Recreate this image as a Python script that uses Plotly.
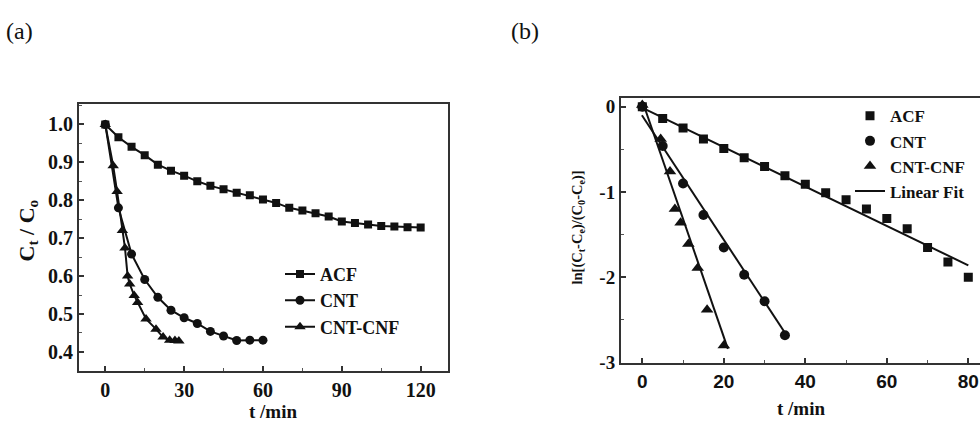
import plotly.graph_objects as go

# ---------------- data: panel (a) ----------------
acf_t = [0, 5, 10, 15, 20, 25, 30, 35, 40, 45, 50, 55, 60, 65, 70, 75, 80, 85, 90, 95, 100, 105, 110, 115, 120]
acf_c = [1.0, 0.966, 0.941, 0.919, 0.894, 0.878, 0.865, 0.850, 0.838, 0.829, 0.820, 0.813, 0.802,
         0.793, 0.780, 0.773, 0.766, 0.757, 0.744, 0.740, 0.736, 0.732, 0.731, 0.729, 0.728]
cnt_t = [0, 5, 10, 15, 20, 25, 30, 35, 40, 45, 50, 55, 60]
cnt_c = [1.0, 0.780, 0.658, 0.591, 0.544, 0.510, 0.490, 0.475, 0.454, 0.442, 0.430, 0.431, 0.431]
cnf_t = [0, 3, 4.5, 6.5, 7.5, 8.5, 9.3, 11, 12.3, 15.5, 19.3, 22, 24.5, 26.5, 28]
cnf_c = [1.0, 0.891, 0.823, 0.720, 0.674, 0.600, 0.579, 0.549, 0.530, 0.487, 0.460, 0.439, 0.431, 0.430, 0.429]

# ---------------- data: panel (b) ----------------
b_acf_t = [0, 5, 10, 15, 20, 25, 30, 35, 40, 45, 50, 55, 60, 65, 70, 75, 80]
b_acf_v = [0.0, -0.14, -0.25, -0.38, -0.49, -0.60, -0.70, -0.81, -0.91, -1.01, -1.09, -1.20, -1.31,
           -1.43, -1.65, -1.82, -2.00]
b_cnt_t = [0, 5, 10, 15, 20, 25, 30, 35]
b_cnt_v = [0.0, -0.46, -0.90, -1.27, -1.65, -1.97, -2.28, -2.68]
b_cnf_t = [0, 4.5, 6.8, 8.0, 9.4, 11.3, 13.6, 15.9, 20]
b_cnf_v = [0.02, -0.38, -0.76, -1.20, -1.36, -1.61, -1.89, -2.38, -2.80]

# linear-fit line end points
fit_acf_t = [0.3, 80]
fit_acf_v = [-0.02, -1.86]
fit_cnt_t = [-0.1, 35.4]
fit_cnt_v = [-0.10, -2.68]
fit_cnf_t = [0.2, 21.0]
fit_cnf_v = [0.04, -2.84]

W, H = 980, 428
SERIF = "Liberation Serif"
SANS = "Liberation Sans"
INK = "#111111"

def px(x):
    return x / W

def py(y):
    return 1 - y / H

fig = go.Figure()

# panel (a) traces
common_a = dict(mode="lines+markers", line=dict(color=INK, width=2), xaxis="x", yaxis="y", legend="legend")
fig.add_trace(go.Scatter(x=acf_t, y=acf_c, name="ACF",
                         marker=dict(symbol="square", size=8, color=INK), **common_a))
fig.add_trace(go.Scatter(x=cnt_t, y=cnt_c, name="CNT",
                         marker=dict(symbol="circle", size=9, color=INK), **common_a))
fig.add_trace(go.Scatter(x=cnf_t, y=cnf_c, name="CNT-CNF",
                         marker=dict(symbol="triangle-up", size=10, color=INK), **common_a))

# panel (b) traces
common_b = dict(mode="markers", xaxis="x2", yaxis="y2", legend="legend2")
fig.add_trace(go.Scatter(x=b_acf_t, y=b_acf_v, name="ACF",
                         marker=dict(symbol="square", size=9, color=INK), **common_b))
fig.add_trace(go.Scatter(x=b_cnt_t, y=b_cnt_v, name="CNT",
                         marker=dict(symbol="circle", size=10, color=INK), **common_b))
fig.add_trace(go.Scatter(x=b_cnf_t, y=b_cnf_v, name="CNT-CNF",
                         marker=dict(symbol="triangle-up", size=11, color=INK), **common_b))
line_b = dict(mode="lines", line=dict(color=INK, width=2), xaxis="x2", yaxis="y2", legend="legend2")
fig.add_trace(go.Scatter(x=fit_acf_t, y=fit_acf_v, name="Linear Fit", showlegend=True, **line_b))
fig.add_trace(go.Scatter(x=fit_cnt_t, y=fit_cnt_v, name="Linear Fit", showlegend=False, **line_b))
fig.add_trace(go.Scatter(x=fit_cnf_t, y=fit_cnf_v, name="Linear Fit", showlegend=False, **line_b))

axis_line = dict(showline=True, linecolor="#333333", linewidth=2, showgrid=False, zeroline=False,
                 ticks="inside", tickcolor="#333333", ticklen=5, tickwidth=1.5)
minor = dict(ticks="inside", ticklen=3, tickcolor="#555555", tickwidth=1)

fig.update_layout(
    width=W, height=H,
    margin=dict(l=0, r=0, t=0, b=0),
    paper_bgcolor="white", plot_bgcolor="white",
    xaxis=dict(domain=[px(79), px(448)], range=[-10.0, 130.4], anchor="y",
               tickvals=[0, 30, 60, 90, 120], mirror=True,
               minor=dict(dtick=15, **minor),
               tickfont=dict(family=SERIF, size=20, color=INK, weight="bold"), **axis_line),
    yaxis=dict(domain=[py(380), py(105)], range=[0.3487, 1.0538], anchor="x",
               tickvals=[0.4, 0.5, 0.6, 0.7, 0.8, 0.9, 1.0], tickformat=".1f", mirror=True,
               minor=dict(dtick=0.05, **minor),
               tickfont=dict(family=SERIF, size=20, color=INK, weight="bold"), **axis_line),
    xaxis2=dict(domain=[px(621), 1.0], range=[-5.23, 82.87], anchor="y2",
                tickvals=[0, 20, 40, 60, 80], mirror=True,
                minor=dict(dtick=10, **minor),
                tickfont=dict(family=SANS, size=19, color=INK, weight="bold"), **axis_line),
    yaxis2=dict(domain=[py(371.7), py(99)], range=[-3.008, 0.099], anchor="x2",
                tickvals=[-3, -2, -1, 0], ticktext=["-3", "-2", "-1", "0"],
                minor=dict(dtick=0.5, **minor),
                tickfont=dict(family=SERIF, size=19, color=INK, weight="bold"), **axis_line),
    legend=dict(x=px(280), y=py(261), xanchor="left", yanchor="top",
                bgcolor="rgba(0,0,0,0)", borderwidth=0, itemwidth=30,
                font=dict(family=SERIF, size=18, color=INK, weight="bold"), tracegroupgap=0),
    legend2=dict(x=px(850), y=py(99), xanchor="left", yanchor="top",
                 bgcolor="rgba(0,0,0,0)", borderwidth=0, itemwidth=30,
                 font=dict(family=SERIF, size=17, color=INK, weight="bold"), tracegroupgap=0),
    showlegend=True,
)

ann = [
    dict(text="(a)", x=px(4), y=py(30), xanchor="left", yanchor="middle",
         font=dict(family=SERIF, size=24, color=INK)),
    dict(text="(b)", x=px(509), y=py(30), xanchor="left", yanchor="middle",
         font=dict(family=SERIF, size=24, color=INK)),
    dict(text="t /min", x=px(273), y=py(421), xanchor="center", yanchor="middle",
         font=dict(family=SERIF, size=19, color=INK, weight="bold")),
    dict(text="t /min", x=px(801), y=py(418), xanchor="center", yanchor="middle",
         font=dict(family=SERIF, size=19, color=INK, weight="bold")),
    dict(text="C<sub>t</sub> / C<sub>o</sub>", x=px(28), y=py(235), xanchor="center", yanchor="middle",
         textangle=-90, font=dict(family=SERIF, size=22, color=INK, weight="bold")),
    dict(text="ln[(C<sub>t</sub>-C<sub>e</sub>)/(C<sub>0</sub>-C<sub>e</sub>)]", x=px(578), y=py(232),
         xanchor="center", yanchor="middle", textangle=-90,
         font=dict(family=SERIF, size=14.5, color=INK, weight="bold")),
]
for a in ann:
    a.update(xref="paper", yref="paper", showarrow=False)
fig.update_layout(annotations=ann)

fig.write_html("out.html", config={"displayModeBar": False},
               post_script="document.body.style.margin='0';document.body.style.overflow='hidden';")
